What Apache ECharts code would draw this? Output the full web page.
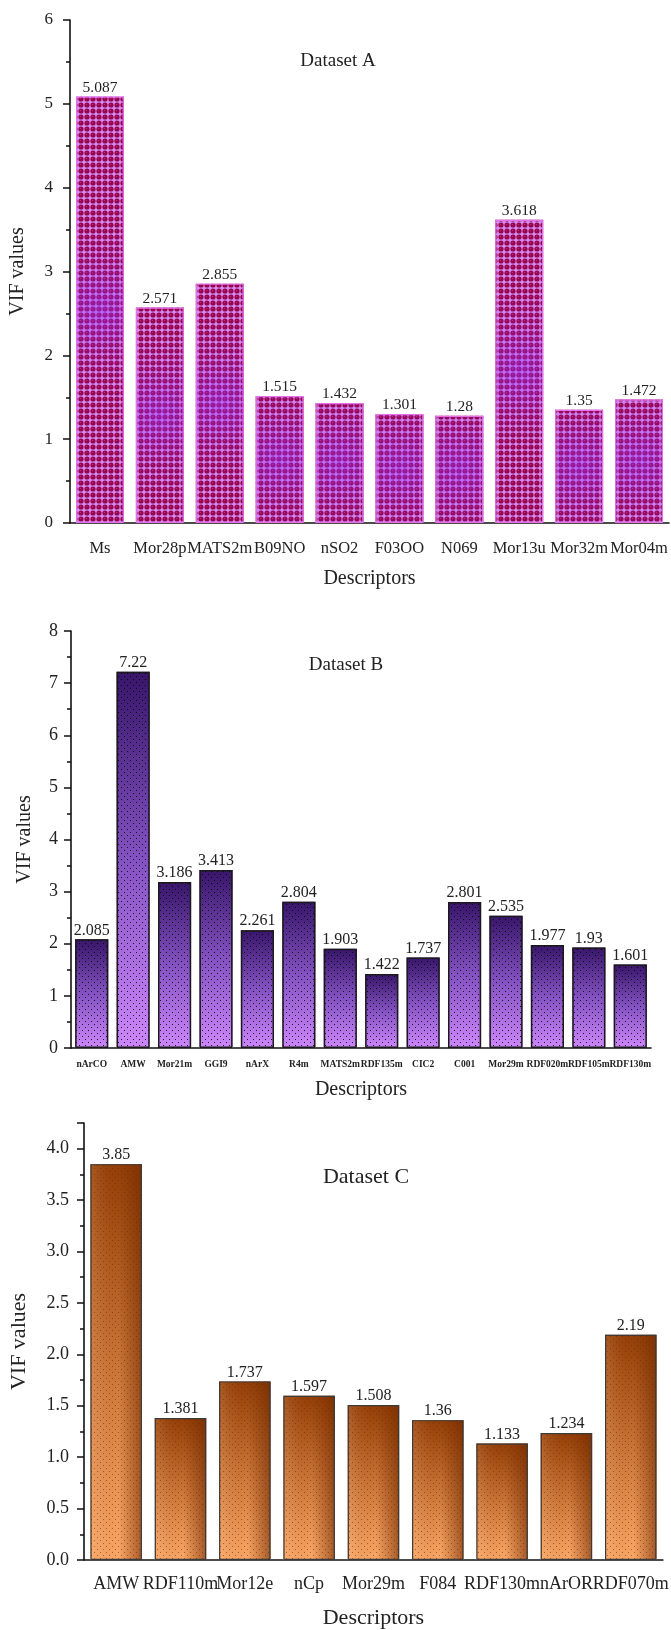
<!DOCTYPE html>
<html>
<head>
<meta charset="utf-8">
<style>
  html, body { margin: 0; padding: 0; background: #fff; }
  #main { width: 671px; height: 1630px; }
</style>
<script src="https://cdn.jsdelivr.net/npm/echarts@6/dist/echarts.min.js"></script>
</head>
<body>
<div id="main"></div>
<script>
// data
var catsA = ['Ms', 'Mor28p', 'MATS2m', 'B09NO', 'nSO2', 'F03OO', 'N069', 'Mor13u', 'Mor32m', 'Mor04m'];
var valsA = [5.087, 2.571, 2.855, 1.515, 1.432, 1.301, 1.28, 3.618, 1.35, 1.472];

var catsB = ['nArCO', 'AMW', 'Mor21m', 'GGI9', 'nArX', 'R4m', 'MATS2m', 'RDF135m', 'CIC2', 'C001', 'Mor29m', 'RDF020m', 'RDF105m', 'RDF130m'];
var valsB = [2.085, 7.22, 3.186, 3.413, 2.261, 2.804, 1.903, 1.422, 1.737, 2.801, 2.535, 1.977, 1.93, 1.601];

var catsC = ['AMW', 'RDF110m', 'Mor12e', 'nCp', 'Mor29m', 'F084', 'RDF130m', 'nArOR', 'RDF070m'];
var valsC = [3.85, 1.381, 1.737, 1.597, 1.508, 1.36, 1.133, 1.234, 2.19];

var titles = ['Dataset A', 'Dataset B', 'Dataset C'];

var FONT = '"Liberation Serif", "Times New Roman", serif';

function tile(w, h, draw) {
  var c = document.createElement('canvas');
  c.width = w; c.height = h;
  draw(c.getContext('2d'));
  return c;
}

// checked circles for A
var patA = tile(6, 6, function (ctx) {
  ctx.fillStyle = '#d48cf2';
  ctx.fillRect(0, 0, 6, 6);
  ctx.fillStyle = '#98054e';
  ctx.beginPath();
  ctx.arc(3, 3, 2.6, 0, Math.PI * 2);
  ctx.fill();
  ctx.fillStyle = 'rgba(255,130,210,0.35)';
  ctx.fillRect(2, 2, 1, 1);
});

function dots(color) {
  return tile(6, 6, function (ctx) {
    ctx.fillStyle = color;
    ctx.fillRect(1, 1, 1, 1);
    ctx.fillRect(4, 4, 1, 1);
  });
}
var dotsB = dots('rgba(0,0,0,0.85)');
var dotsC = dots('rgba(110,40,5,0.55)');

var grids = [
  { left: 60, top: 20, width: 609, height: 503 },
  { left: 71, top: 631, width: 580, height: 417 },
  { left: 73, top: 1123, width: 592, height: 439 }
];

var axisLine = { lineStyle: { color: '#111', width: 1.6 } };

function xAxes(gi, cats, fontSize, bold, margin) {
  return [{
    type: 'category', gridIndex: gi, data: cats, position: 'bottom',
    axisLine: axisLine,
    axisTick: { alignWithLabel: true, length: 8, lineStyle: { color: '#111', width: 1.5 } },
    axisLabel: { interval: 0, margin: margin, fontFamily: FONT, fontSize: fontSize,
      fontWeight: bold ? 'bold' : 'normal', color: '#222' },
    name: 'Descriptors', nameLocation: 'middle',
    nameTextStyle: { fontFamily: FONT, color: '#222' }
  }, {
    type: 'category', gridIndex: gi, data: cats, position: 'bottom',
    axisLine: { show: false },
    axisTick: { length: 4, lineStyle: { color: '#111', width: 1.5 } },
    axisLabel: { show: false }
  }];
}

function yAxis(gi, max, interval, fontSize, margin, nameGap, nameSize, dec) {
  return {
    type: 'value', gridIndex: gi, min: 0, max: max, interval: interval,
    axisLine: { show: true, lineStyle: { color: '#111', width: 1.6 } },
    axisTick: { show: true, length: 7, lineStyle: { color: '#111', width: 1.5 } },
    minorTick: { show: true, splitNumber: 2, length: 4, lineStyle: { color: '#111', width: 1.5 } },
    splitLine: { show: false },
    axisLabel: { margin: margin, fontFamily: FONT, fontSize: fontSize, color: '#222',
      formatter: function (v) {
        if (Math.abs(v / interval - Math.round(v / interval)) > 1e-6) return '';
        return dec ? v.toFixed(1) : String(v);
      } },
    name: 'VIF values', nameLocation: 'middle', nameRotate: 90, nameGap: nameGap,
    nameTextStyle: { fontFamily: FONT, fontSize: nameSize, color: '#222' }
  };
}

var xs = [].concat(
  xAxes(0, catsA, 16.5, false, 17),
  xAxes(1, catsB, 9.5, true, 12),
  xAxes(2, catsC, 18, false, 15)
);
xs[0].nameGap = 46; xs[0].nameTextStyle.fontSize = 20;
xs[2].nameGap = 32; xs[2].nameTextStyle.fontSize = 20;
xs[4].nameGap = 47; xs[4].nameTextStyle.fontSize = 22;

var ys = [
  yAxis(0, 6, 1, 17, 17, 42, 20, false),
  yAxis(1, 8, 1, 18, 13, 36, 20, false),
  yAxis(2, 4.25, 0.5, 18, 15, 54, 22, true)
];

function bar(axisIdx, vals, color, extra) {
  var s = {
    type: 'bar', xAxisIndex: axisIdx, yAxisIndex: axisIdx / 2, data: vals,
    barCategoryGap: '20%', barGap: '-100%',
    itemStyle: { color: color },
    silent: true, animation: false
  };
  for (var k in extra) s[k] = extra[k];
  return s;
}

function valLabel(size) {
  return { show: true, position: 'top', distance: 1, fontFamily: FONT, fontSize: size, color: '#222',
    formatter: function (p) { return String(p.value); } };
}

var series = [
  // A
  bar(0, valsA, { image: patA, repeat: 'repeat' }, { label: valLabel(15.5) }),
  bar(0, valsA, {
    type: 'radial', x: 0.5, y: 0.5, r: 1.7,
    colorStops: [{ offset: 0, color: 'rgba(150,50,255,0.45)' }, { offset: 0.6, color: 'rgba(150,50,255,0.1)' }, { offset: 1, color: 'rgba(150,50,255,0)' }]
  }, {}),
  bar(0, valsA, 'rgba(0,0,0,0)', { itemStyle: { color: 'rgba(0,0,0,0)', borderColor: '#e470ea', borderWidth: 1.2 } }),
  // B
  bar(2, valsB, {
    type: 'linear', x: 0, y: 0, x2: 0, y2: 1,
    colorStops: [{ offset: 0, color: '#38156a' }, { offset: 0.5, color: '#8452c2' }, { offset: 1, color: '#cd86fb' }]
  }, { label: valLabel(16) }),
  bar(2, valsB, { image: dotsB, repeat: 'repeat' }, {
    itemStyle: { color: { image: dotsB, repeat: 'repeat' }, borderColor: '#1a1a1a', borderWidth: 1.5 }
  }),
  // C
  bar(4, valsC, {
    type: 'linear', x: 0, y: 0, x2: 0, y2: 1,
    colorStops: [{ offset: 0, color: '#943e06' }, { offset: 0.55, color: '#cf7a3c' }, { offset: 1, color: '#fba867' }]
  }, { label: valLabel(16) }),
  bar(4, valsC, {
    type: 'linear', x: 0, y: 0, x2: 1, y2: 0,
    colorStops: [{ offset: 0, color: 'rgba(255,200,150,0.2)' }, { offset: 0.55, color: 'rgba(120,45,0,0)' }, { offset: 1, color: 'rgba(110,40,0,0.6)' }]
  }, {}),
  bar(4, valsC, { image: dotsC, repeat: 'repeat' }, {
    itemStyle: { color: { image: dotsC, repeat: 'repeat' }, borderColor: '#3a3a3a', borderWidth: 1.2 }
  })
];

var titleGraphics = [
  { x: 338, y: 61, size: 19 },
  { x: 346, y: 665, size: 19 },
  { x: 366, y: 1177, size: 22 }
].map(function (t, i) {
  return {
    type: 'text', x: t.x, y: t.y, silent: true,
    style: { text: titles[i], fontFamily: FONT, fontSize: t.size, fill: '#222',
      textAlign: 'center', textVerticalAlign: 'middle' }
  };
});

var myChart = echarts.init(document.getElementById('main'), null, { renderer: 'canvas' });
var option = {
  backgroundColor: '#fff',
  animation: false,
  grid: grids,
  xAxis: xs,
  yAxis: ys,
  series: series,
  graphic: titleGraphics
};
myChart.setOption(option);
window.addEventListener('resize', myChart.resize);
</script>
</body>
</html>
